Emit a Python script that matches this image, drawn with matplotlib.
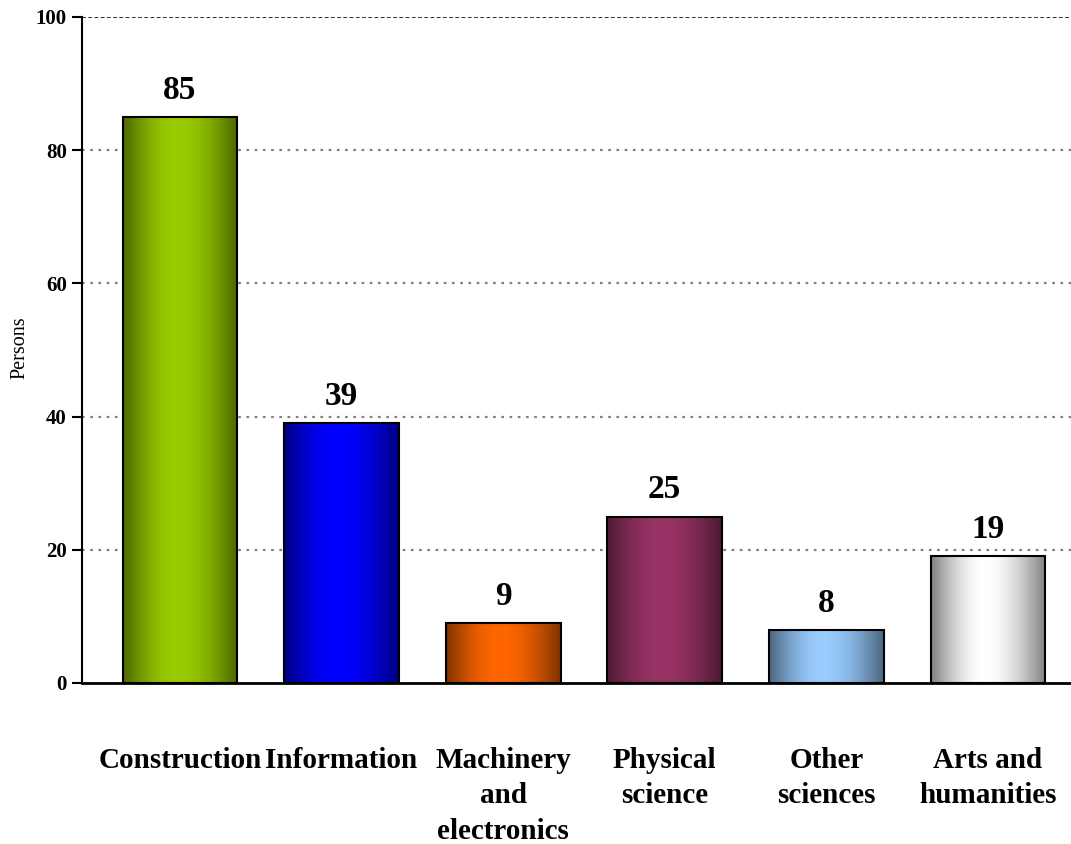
import numpy as np
import matplotlib
matplotlib.use("Agg")
import matplotlib.pyplot as plt
from matplotlib.colors import to_rgb

categories = ["Construction", "Information", "Machinery\nand\nelectronics",
              "Physical\nscience", "Other\nsciences", "Arts and\nhumanities"]
values = [85, 39, 9, 25, 8, 19]
bar_colors = ["#99CC00", "#0000FF", "#FF6600", "#993366", "#99CCFF", "#FFFFFF"]
yticks = [0, 20, 40, 60, 80, 100]

plt.rcParams['font.family'] = ['Liberation Serif', 'DejaVu Serif']

fig = plt.figure(figsize=(10.71, 8.44), dpi=100)
ax = fig.add_axes([82/1071, 1-683/844, 1-82/1071, (683-17)/844])

x = np.arange(len(values))
width = 0.71

# gradient profile: dark edges, bright center
t = np.linspace(0, 1, 256)
peak = 0.47
prof = np.where(t < peak, t/peak, (1-t)/(1-peak))
prof = np.sin(prof*np.pi/2)
fac = 0.5 + 0.5*prof

for xi, v, c in zip(x, values, bar_colors):
    rgb = np.array(to_rgb(c))
    img = (fac[:, None]*rgb[None, :])[None, :, :]
    bars = ax.bar(xi, v, width=width, facecolor='none', edgecolor='black',
                  linewidth=1.5, zorder=3)
    rect = bars[0]
    im = ax.imshow(img, extent=[xi-width/2, xi+width/2, 0, v], aspect='auto',
                   zorder=2, interpolation='bilinear')
    im.set_clip_path(rect)
    ax.annotate(str(v), (xi, v), xytext=(0, 8), textcoords='offset points',
                ha='center', va='bottom', fontsize=24, fontweight='bold')

ax.set_xlim(-0.606, 5.514)
ax.set_ylim(0, 100)

for yv in yticks[1:-1]:
    ax.axhline(yv, color='#808080', linestyle=(0, (1.2, 2.5)), linewidth=1.6, zorder=1)
ax.axhline(100, color='#303030', linestyle=(0, (2, 1.2)), linewidth=1.4, zorder=1)

ax.set_yticks(yticks)
ax.set_yticklabels([str(v) for v in yticks], fontsize=15, fontweight='bold')
ax.tick_params(axis='y', direction='out', length=7, width=1.5, pad=4)
ax.set_xticks(x)
ax.set_xticklabels(categories, fontsize=21, fontweight='bold', linespacing=1.4)
ax.tick_params(axis='x', length=0, pad=46)

for s in ['top', 'right']:
    ax.spines[s].set_visible(False)
ax.spines['left'].set_linewidth(1.5)
ax.spines['bottom'].set_linewidth(2)

fig.text(20/1071, 1-348/844, "Persons", rotation=90, ha='center', va='center',
         fontsize=14.5)

fig.savefig("out.png", dpi=100)
